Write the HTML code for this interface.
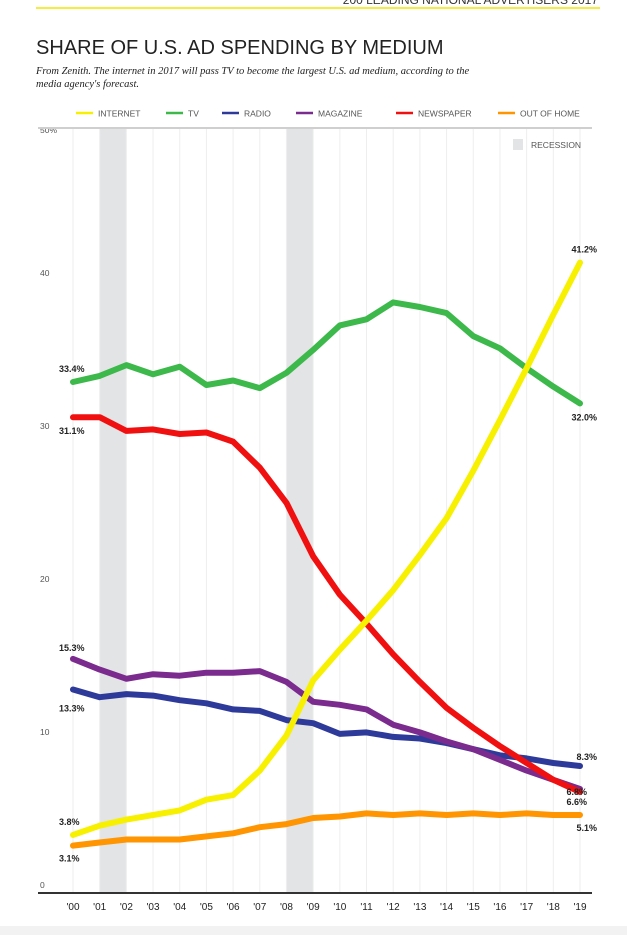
<!DOCTYPE html>
<html><head><meta charset="utf-8">
<style>
body{margin:0;width:627px;height:935px;background:#fff;overflow:hidden;font-family:"Liberation Sans",sans-serif;}
</style></head>
<body>
<svg width="627" height="935" xmlns="http://www.w3.org/2000/svg">
<text x="598" y="4" text-anchor="end" font-size="12" fill="#333">200 LEADING NATIONAL ADVERTISERS 2017</text>
<line x1="36" y1="8" x2="600" y2="8" stroke="#f2e500" stroke-width="1.5"/>
<text x="36" y="54" font-size="20" fill="#222" font-weight="300">SHARE OF U.S. AD SPENDING BY MEDIUM</text>
<text x="36" y="74" font-size="10.5" font-style="italic" font-family="Liberation Serif,serif" fill="#222">From Zenith. The internet in 2017 will pass TV to become the largest U.S. ad medium, according to the</text>
<text x="36" y="87" font-size="10.5" font-style="italic" font-family="Liberation Serif,serif" fill="#222">media agency's forecast.</text>
<g id="legend" font-size="8.5" fill="#555"></g>
<g id="plot"></g>
<rect x="0" y="926" width="627" height="9" fill="#f2f2f2"/>
</svg>
<script>
const years=["'00","'01","'02","'03","'04","'05","'06","'07","'08","'09","'10","'11","'12","'13","'14","'15","'16","'17","'18","'19"];
const yTicks=[0,10,20,30,40,50];
const seriesNames=["INTERNET","TV","RADIO","MAGAZINE","NEWSPAPER","OUT OF HOME"];
const internet=[3.8,4.4,4.8,5.1,5.4,6.1,6.4,8.0,10.3,13.9,15.9,17.8,19.8,22.1,24.5,27.6,30.9,34.3,37.8,41.2];
const tv=[33.4,33.8,34.5,33.9,34.4,33.2,33.5,33.0,34.0,35.5,37.1,37.5,38.6,38.3,37.9,36.4,35.6,34.3,33.1,32.0];
const radio=[13.3,12.8,13.0,12.9,12.6,12.4,12.0,11.9,11.3,11.1,10.4,10.5,10.2,10.1,9.8,9.4,9.0,8.8,8.5,8.3];
const magazine=[15.3,14.6,14.0,14.3,14.2,14.4,14.4,14.5,13.8,12.5,12.3,12.0,11.0,10.5,9.9,9.4,8.7,8.0,7.4,6.8];
const newspaper=[31.1,31.1,30.2,30.3,30.0,30.1,29.5,27.8,25.5,22.0,19.5,17.6,15.6,13.8,12.1,10.8,9.6,8.5,7.4,6.6];
const outOfHome=[3.1,3.3,3.5,3.5,3.5,3.7,3.9,4.3,4.5,4.9,5.0,5.2,5.1,5.2,5.1,5.2,5.1,5.2,5.1,5.1];
const recessions=[[1,2],[8,9]];
const colors=["#f7f000","#3cb94a","#2e3a9a","#7b2a8e","#f01010","#ff9500"];
const NS="http://www.w3.org/2000/svg";
const x0=73,x1=580,yb=893,yt=128;
function xs(i){return x0+(x1-x0)*i/(years.length-1);}
function ys(v){return yb-(yb-yt)*v/50;}
function mk(tag,attrs,parent){const e=document.createElementNS(NS,tag);for(const k in attrs)e.setAttribute(k,attrs[k]);parent.appendChild(e);return e;}
const plot=document.getElementById('plot');
recessions.forEach(r=>{const e=mk('rect',{x:xs(r[0]),y:yt,width:xs(r[1])-xs(r[0]),height:yb-yt,fill:'#e3e4e6'},plot);

});
years.forEach((y,i)=>{const l=mk('line',{x1:xs(i),x2:xs(i),y1:yt,y2:yb,stroke:'#eeeeee','stroke-width':1},plot);


const t=mk('text',{x:xs(i),y:yb+17,'text-anchor':'middle','font-size':10,fill:'#222'},plot);t.textContent=y;

});
yTicks.forEach(v=>{const t=mk('text',{x:40,y:ys(v)+(v==50?5:-5),'font-size':8.5,fill:'#555'},plot);t.textContent=v==50?'50%':String(v);

});
let g=mk('line',{x1:38,x2:592,y1:yt,y2:yt,stroke:'#cfcfcf','stroke-width':2},plot);


g=mk('line',{x1:38,x2:592,y1:yb,y2:yb,stroke:'#333','stroke-width':2},plot);


const rl=mk('rect',{x:513,y:139,width:10,height:11,fill:'#e3e4e6'},plot);


const rt=mk('text',{x:531,y:148,'font-size':8.5,fill:'#555'},plot);rt.textContent='RECESSION';


const all=[outOfHome,radio,magazine,newspaper,tv,internet];const idx=[5,2,3,4,1,0];
all.forEach((s,k)=>{const d=s.map((v,i)=>(i?'L':'M')+xs(i).toFixed(1)+','+ys(v).toFixed(1)).join('');
const p=mk('path',{d:d,fill:'none',stroke:colors[idx[k]],'stroke-width':6,'stroke-linejoin':'round','stroke-linecap':'round'},plot);

});
function lab(txt,x,y,anchor){const t=mk('text',{x:x,y:y,'font-size':9,'font-weight':'bold',fill:'#222','text-anchor':anchor},plot);t.textContent=txt;

}
const last=years.length-1;
lab(tv[0].toFixed(1)+'%',59,ys(tv[0])-10,'start');
lab(newspaper[0].toFixed(1)+'%',59,ys(newspaper[0])+17,'start');
lab(magazine[0].toFixed(1)+'%',59,ys(magazine[0])-8,'start');
lab(radio[0].toFixed(1)+'%',59,ys(radio[0])+22,'start');
lab(internet[0].toFixed(1)+'%',59,ys(internet[0])-10,'start');
lab(outOfHome[0].toFixed(1)+'%',59,ys(outOfHome[0])+16,'start');
lab(internet[last].toFixed(1)+'%',597,ys(internet[last])-10,'end');
lab(tv[last].toFixed(1)+'%',597,ys(tv[last])+17,'end');
lab(radio[last].toFixed(1)+'%',597,ys(radio[last])-6,'end');
lab(magazine[last].toFixed(1)+'%',587,ys(magazine[last])+6,'end');
lab(newspaper[last].toFixed(1)+'%',587,ys(newspaper[last])+13,'end');
lab(outOfHome[last].toFixed(1)+'%',597,ys(outOfHome[last])+16,'end');
const leg=document.getElementById('legend');
const lx=[76,166,222,296,396,498];
seriesNames.forEach((n,i)=>{const l=mk('line',{x1:lx[i],x2:lx[i]+17,y1:113,y2:113,stroke:colors[i],'stroke-width':2.5},leg);


const t=mk('text',{x:lx[i]+22,y:116.5},leg);t.textContent=n;

});
</script>
</body></html>
